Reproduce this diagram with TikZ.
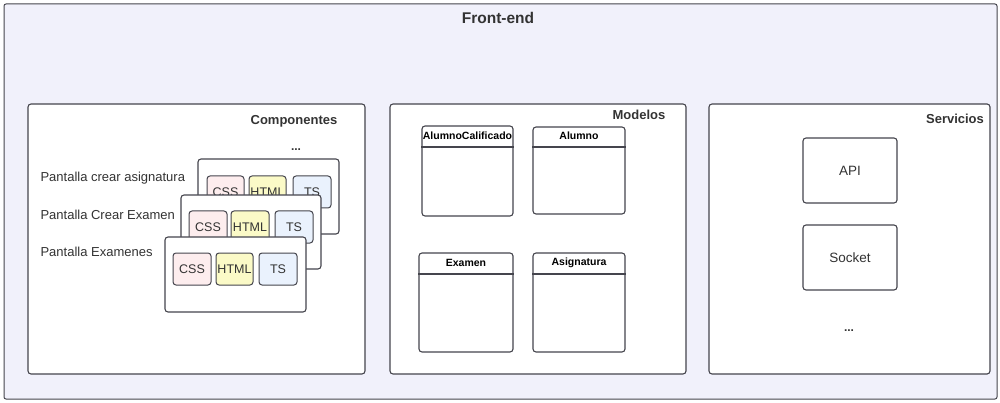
\documentclass[tikz,border=0pt]{standalone}
\usepackage{fontspec}
\setmainfont{Liberation Sans}
\usetikzlibrary{fit}
\definecolor{bgfill}{HTML}{F1F1FB}
\definecolor{edge}{HTML}{45454D}
\definecolor{txt}{HTML}{333333}
\definecolor{cssfill}{HTML}{FDEDEE}
\definecolor{htmlfill}{HTML}{FBFAC7}
\definecolor{tsfill}{HTML}{EAF2FD}
\tikzset{
  panel/.style={draw=edge, line width=1.1pt, fill=white, rounded corners=3pt, inner sep=0pt},
  screen/.style={draw=edge, line width=1.1pt, fill=white, rounded corners=3pt, inner sep=0pt},
  part/.style={draw=edge, line width=1pt, rounded corners=3pt, inner sep=0pt},
  parttext/.style={font=\fontsize{12.5}{14}\selectfont, text=txt},
  klass/.style={draw=edge, line width=1.1pt, fill=white, rounded corners=3pt, inner sep=0pt},
  ktitle/.style={font=\fontsize{10.5}{12}\selectfont\bfseries, text=black},
  service/.style={draw=edge, line width=1.1pt, fill=white, rounded corners=3pt, inner sep=0pt},
  stext/.style={font=\fontsize{13.5}{15}\selectfont, text=txt},
  ptitle/.style={font=\fontsize{13}{15}\selectfont\bfseries, text=txt},
  plabel/.style={font=\fontsize{13}{15}\selectfont, text=txt, anchor=west},
  dots/.style={font=\fontsize{12}{14}\selectfont\bfseries, text=txt},
}
\begin{document}
\begin{tikzpicture}[x=1pt, y=-1pt]
\useasboundingbox (0,0) rectangle (1000,403);
% outer container
\node[draw=edge, line width=1pt, fill=bgfill, rounded corners=2pt, inner sep=0pt, fit={(4,4)(997,399)}] (frontend) {};
\node[font=\fontsize{15.5}{17}\selectfont\bfseries, text=txt] (fetitle) at (498,18) {Front-end};

% --- Componentes ---
\node[panel, fit={(28,104)(365,374)}] (comp) {};
\node[ptitle] (comptitle) at (294,121) {Componentes};
\node[dots] (compdots) at (296,150) {...};

\node[plabel] (lbl1) at (37,178) {Pantalla crear asignatura};
\node[plabel] (lbl2) at (37,215) {Pantalla Crear Examen};
\node[plabel] (lbl3) at (37,252) {Pantalla Examenes};

% screen 1 (back)
\node[screen, fit={(198,159)(339,234)}] (s1) {};
\node[part, fill=cssfill, fit={(207,176)(244,208)}] (s1css) {};
\node[parttext] at (s1css) {CSS};
\node[part, fill=htmlfill, fit={(249,176)(286,208)}] (s1html) {};
\node[parttext] at (s1html) {HTML};
\node[part, fill=tsfill, fit={(293,176)(331,208)}] (s1ts) {};
\node[parttext] at (s1ts) {TS};

% screen 2
\node[screen, fit={(181,195)(321,269)}] (s2) {};
\node[part, fill=cssfill, fit={(189,211)(227,243)}] (s2css) {};
\node[parttext] at (s2css) {CSS};
\node[part, fill=htmlfill, fit={(231,211)(269,243)}] (s2html) {};
\node[parttext] at (s2html) {HTML};
\node[part, fill=tsfill, fit={(275,211)(313,243)}] (s2ts) {};
\node[parttext] at (s2ts) {TS};

% screen 3 (front)
\node[screen, fit={(165,237)(306,312)}] (s3) {};
\node[part, fill=cssfill, fit={(173,253)(211,285)}] (s3css) {};
\node[parttext] at (s3css) {CSS};
\node[part, fill=htmlfill, fit={(216,253)(253,285)}] (s3html) {};
\node[parttext] at (s3html) {HTML};
\node[part, fill=tsfill, fit={(259,253)(297,285)}] (s3ts) {};
\node[parttext] at (s3ts) {TS};

% --- Modelos ---
\node[panel, fit={(390,104)(686,374)}] (mod) {};
\node[ptitle] (modtitle) at (639,115) {Modelos};

\node[klass, fit={(422,126)(513,216)}] (kac) {};
\draw[edge, line width=1.1pt] (kac.west |- 0,147) -- (kac.east |- 0,147);
\node[ktitle] at (467.5,136) {AlumnoCalificado};

\node[klass, fit={(533,127)(625,214)}] (kal) {};
\draw[edge, line width=1.1pt] (kal.west |- 0,147) -- (kal.east |- 0,147);
\node[ktitle] at (579,136) {Alumno};

\node[klass, fit={(419,253)(513,352)}] (kex) {};
\draw[edge, line width=1.1pt] (kex.west |- 0,274) -- (kex.east |- 0,274);
\node[ktitle] at (466,263) {Examen};

\node[klass, fit={(533,253)(625,352)}] (kas) {};
\draw[edge, line width=1.1pt] (kas.west |- 0,274) -- (kas.east |- 0,274);
\node[ktitle] at (579,263) {Asignatura};

% --- Servicios ---
\node[panel, fit={(709,104)(990,374)}] (serv) {};
\node[ptitle] (servtitle) at (955,119) {Servicios};
\node[service, fit={(803,138)(897,203)}] (api) {};
\node[stext] at (api) {API};
\node[service, fit={(803,225)(897,290)}] (socket) {};
\node[stext] at (socket) {Socket};
\node[dots] (servdots) at (849,331) {...};
\end{tikzpicture}
\end{document}
